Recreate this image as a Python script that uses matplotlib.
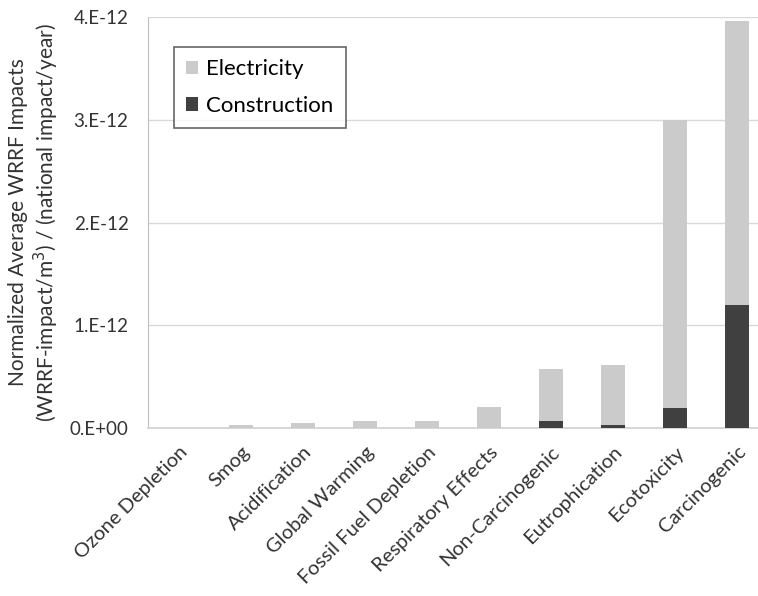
import matplotlib
matplotlib.use("Agg")
import matplotlib.pyplot as plt
from matplotlib.ticker import FixedLocator, FixedFormatter

categories = ["Ozone Depletion", "Smog", "Acidification", "Global Warming",
              "Fossil Fuel Depletion", "Respiratory Effects", "Non-Carcinogenic",
              "Eutrophication", "Ecotoxicity", "Carcinogenic"]
construction = [0.0, 0.0, 0.0, 0.0, 0.0, 0.0,
                0.07e-12, 0.03e-12, 0.19e-12, 1.2e-12]
electricity = [0.002e-12, 0.03e-12, 0.05e-12, 0.07e-12, 0.07e-12, 0.20e-12,
               0.50e-12, 0.58e-12, 2.81e-12, 2.76e-12]
ytick_vals = [0, 1e-12, 2e-12, 3e-12, 4e-12]
ytick_labels = ["0.E+00", "1.E-12", "2.E-12", "3.E-12", "4.E-12"]

plt.rcParams['font.family'] = ['Lato', 'DejaVu Sans']

W, H = 758, 596
fig = plt.figure(figsize=(W/100, H/100), dpi=100)
left, right, top, bottom = 148, 768, 17, 428
ax = fig.add_axes([left/W, (H-bottom)/H, (right-left)/W, (bottom-top)/H])

x = list(range(len(categories)))
c_elec = "#cbcbcb"
c_cons = "#404040"
ax.bar(x, construction, width=0.4, color=c_cons, label="Construction", zorder=3)
ax.bar(x, electricity, width=0.4, bottom=construction, color=c_elec,
       label="Electricity", zorder=3)

ax.set_xlim(-0.5, len(categories) - 0.5)
ax.set_ylim(0, 4e-12)
ax.yaxis.set_major_locator(FixedLocator(ytick_vals))
ax.yaxis.set_major_formatter(FixedFormatter(ytick_labels))
ax.grid(axis='y', color="#d9d9d9", linewidth=1.0, zorder=0)
ax.set_axisbelow(True)
for s in ['top', 'right']:
    ax.spines[s].set_visible(False)
ax.spines['left'].set_color("#bfbfbf")
ax.spines['bottom'].set_color("#d0d0d0")
ax.spines['bottom'].set_linewidth(1.2)
ax.tick_params(axis='y', length=0, labelsize=13.5, colors="#333333", pad=14)
ax.tick_params(axis='x', length=0, labelsize=14.5, colors="#333333", pad=11)
ax.set_xticks(x)
ax.set_xticklabels(categories, rotation=45, ha='right', rotation_mode='anchor')

ax.set_ylabel("Normalized Average WRRF Impacts\n(WRRF-impact/m$^3$) / (national impact/year)",
              fontsize=15, color="#333333", labelpad=6, linespacing=1.2)

handles, labels = ax.get_legend_handles_labels()
leg = ax.legend(handles[::-1], labels[::-1], loc='upper left',
                bbox_to_anchor=((174-left)/(right-left), 1 - (47-top)/(bottom-top)),
                frameon=True, fancybox=False, fontsize=16, handlelength=0.55,
                handleheight=0.55, handletextpad=0.35, labelspacing=0.75,
                borderpad=0.55, borderaxespad=0)
leg.get_frame().set_edgecolor("#404040")
leg.get_frame().set_linewidth(1.2)

fig.savefig("out.png", dpi=100)
